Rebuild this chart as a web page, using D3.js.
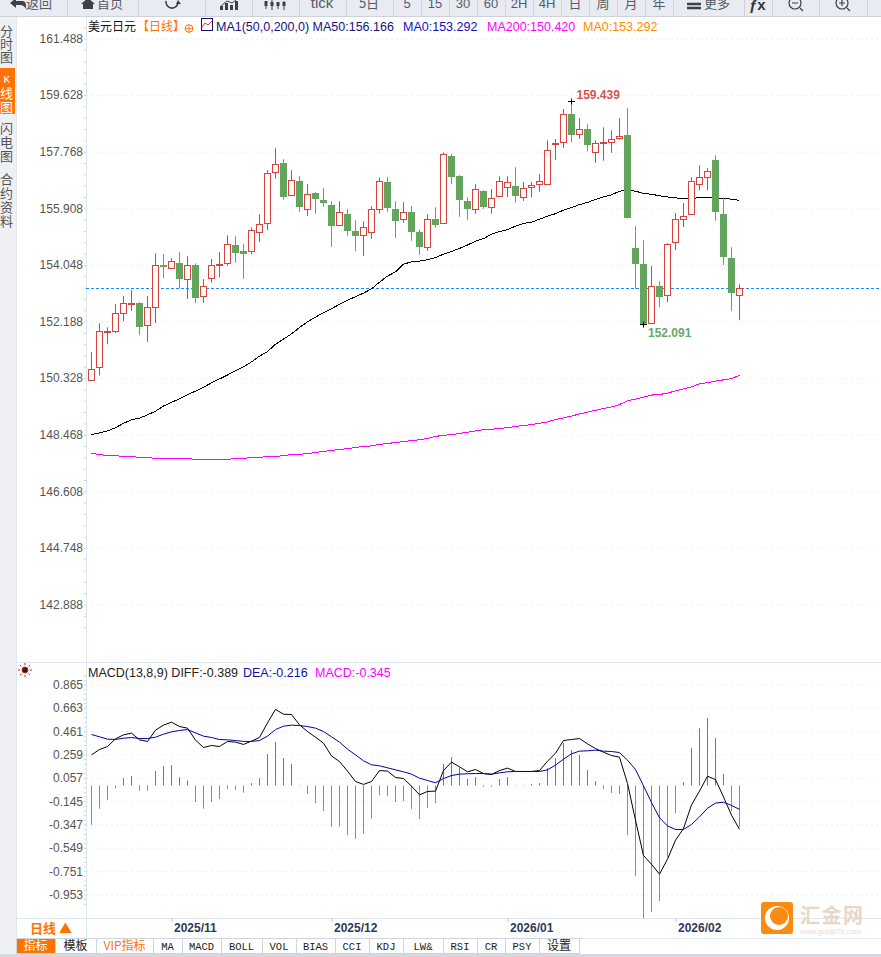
<!DOCTYPE html>
<html>
<head>
<meta charset="utf-8">
<script src="https://cdn.jsdelivr.net/npm/d3@7"></script>
<style>
html, body { margin: 0; padding: 0; background: #fff; overflow: hidden; }
svg { display: block; }
text { font-family: "Liberation Sans", Arial, sans-serif; }
.cjk { font-family: "Noto Sans CJK SC", sans-serif; }
.mono { font-family: "Liberation Mono", monospace; }
</style>
</head>
<body>
<div id="chart"></div>
<script>
// values
var priceTicks = [161.488, 159.628, 157.768, 155.908, 154.048, 152.188, 150.328, 148.468, 146.608, 144.748, 142.888];
var macdTicks = [0.865, 0.663, 0.461, 0.259, 0.057, -0.145, -0.347, -0.549, -0.751, -0.953];
var dateLabels = ["2025/11", "2025/12", "2026/01", "2026/02"];
var dateIndex = [10, 30, 52, 73];
var lastPrice = 153.292;
// candles that carry the high and low labels
var highMark = 60, lowMark = 69;

var opens = [150.28,150.68,151.85,151.89,152.45,152.77,152.79,152.06,152.65,154.04,
    153.93,154.10,153.56,154.04,153.00,153.63,154.05,154.08,154.70,154.49,
    154.49,155.11,155.44,157.12,157.39,156.36,156.80,155.90,156.40,156.17,
    156.01,155.38,155.71,155.16,155.01,155.11,155.90,156.77,155.88,155.54,
    155.78,155.12,154.65,155.55,155.41,157.62,156.96,156.14,155.87,156.47,
    155.97,156.30,156.62,156.63,156.30,156.59,156.69,156.72,158.04,158.09,
    159.00,158.37,158.51,157.74,158.06,158.10,158.22,158.31,154.60,154.07,
    152.11,153.35,153.04,154.78,155.57,155.70,156.72,156.95,157.49,155.71,
    154.27,153.07];
var closes = [150.64,151.86,151.89,152.48,152.78,152.81,152.04,152.65,154.03,154.02,
    154.16,153.62,154.03,153.00,153.34,154.06,154.09,154.72,154.48,154.44,
    155.18,155.38,157.08,157.38,156.32,156.85,155.99,156.39,156.25,156.12,
    155.36,155.80,155.17,155.04,155.28,155.87,156.82,155.96,155.53,155.77,
    155.17,154.67,155.57,155.40,157.68,156.97,156.19,155.92,156.53,155.99,
    156.26,156.79,156.77,156.32,156.59,156.66,156.79,157.84,158.07,159.02,
    158.35,158.53,158.03,158.04,158.08,158.20,158.30,155.63,154.11,152.11,
    153.34,153.03,154.72,155.54,155.67,156.79,156.95,157.15,155.82,154.34,
    153.16,153.292];
var highs = [151.18,152.13,152.00,152.76,153.02,153.22,152.82,153.02,154.43,154.40,
    154.27,154.47,154.33,154.10,153.58,154.24,154.47,155.02,154.99,154.73,
    155.28,155.71,157.16,157.88,157.52,157.16,156.96,156.70,156.44,156.57,
    156.14,156.14,155.88,155.52,155.48,155.97,156.92,156.93,156.14,156.11,
    155.98,155.21,155.71,155.94,157.74,157.69,157.00,156.27,156.70,156.50,
    156.54,156.96,156.96,157.26,156.77,156.77,157.03,158.14,158.18,159.17,
    159.439,158.87,158.67,158.14,158.57,158.47,158.87,159.20,155.32,154.86,
    154.01,153.51,154.76,155.75,156.08,156.93,157.32,157.23,157.65,156.26,
    154.63,153.41];
var lows = [150.24,150.42,151.44,151.81,152.20,152.53,151.74,151.52,152.14,153.61,
    153.92,153.27,152.93,152.80,152.80,153.46,153.64,154.02,154.12,153.59,
    154.40,154.79,155.19,156.88,156.19,156.36,155.79,155.66,155.73,155.96,
    154.64,155.36,155.00,154.50,154.34,154.90,155.73,155.79,154.94,155.43,
    154.84,154.38,154.51,155.27,155.41,156.71,155.63,155.53,155.73,155.89,
    155.73,156.30,156.28,156.09,156.15,156.27,156.45,156.71,157.49,157.89,
    158.09,158.19,157.78,157.40,157.47,157.73,158.16,155.58,153.26,152.091,
    152.11,152.66,152.82,154.53,155.29,155.70,156.50,156.50,155.50,154.04,
    152.53,152.23];

var ma50 = [148.47,148.53,148.59,148.70,148.84,148.96,149.01,149.12,149.24,149.41,
    149.53,149.65,149.78,149.90,150.03,150.17,150.30,150.43,150.57,150.70,
    150.86,151.05,151.20,151.44,151.61,151.78,151.99,152.18,152.33,152.48,
    152.61,152.75,152.89,153.00,153.12,153.26,153.48,153.68,153.82,154.07,
    154.15,154.17,154.22,154.29,154.40,154.49,154.59,154.70,154.83,154.91,
    155.06,155.14,155.21,155.32,155.41,155.45,155.55,155.65,155.73,155.85,
    155.93,156.03,156.10,156.20,156.28,156.35,156.47,156.50,156.47,156.40,
    156.37,156.32,156.28,156.25,156.23,156.23,156.26,156.26,156.26,156.23,
    156.21,156.166];
var ma200 = [147.85,147.82,147.78,147.78,147.75,147.75,147.72,147.72,147.69,147.69,
    147.69,147.69,147.69,147.65,147.65,147.65,147.65,147.65,147.69,147.69,
    147.72,147.72,147.75,147.75,147.78,147.82,147.82,147.85,147.88,147.92,
    147.95,147.98,148.01,148.05,148.08,148.10,148.15,148.18,148.21,148.24,
    148.28,148.30,148.35,148.41,148.45,148.47,148.51,148.55,148.59,148.64,
    148.65,148.67,148.70,148.74,148.77,148.80,148.84,148.89,148.97,149.02,
    149.08,149.15,149.21,149.27,149.33,149.38,149.46,149.58,149.64,149.70,
    149.77,149.79,149.83,149.91,149.97,150.04,150.14,150.18,150.23,150.27,
    150.31,150.42];

var diff = [.256,.302,.328,.395,.429,.444,.386,.372,.470,.513,
    .539,.501,.487,.383,.320,.337,.328,.372,.366,.346,
    .375,.406,.533,.649,.608,.605,.516,.458,.409,.357,
    .247,.198,.115,.025,.000,.025,.120,.115,.060,.051,
    -.015,-.090,-.061,-.058,.120,.193,.152,.109,.129,.094,
    .086,.120,.141,.112,.112,.112,.120,.201,.270,.380,
    .389,.397,.351,.311,.279,.250,.236,.008,-.310,-.616,
    -.691,-.777,-.647,-.483,-.382,-.177,-.058,.071,.042,-.108,
    -.266,-.389];
var dea = [.432,.412,.392,.389,.400,.406,.397,.397,.409,.435,
    .455,.467,.475,.446,.418,.406,.389,.386,.380,.372,
    .372,.380,.418,.475,.504,.513,.510,.501,.487,.458,
    .412,.366,.305,.256,.204,.170,.161,.144,.126,.109,
    .089,.054,.034,.014,.051,.077,.089,.092,.094,.094,
    .089,.100,.109,.112,.112,.112,.112,.126,.167,.219,
    .265,.288,.291,.297,.288,.285,.276,.210,.129,-.012,
    -.157,-.289,-.359,-.390,-.390,-.347,-.281,-.206,-.162,-.154,
    -.182,-.216];
var macdBars = [-.341,-.202,-.127,-.023,.063,.081,-.046,-.046,.124,.167,
    .176,.072,.043,-.144,-.202,-.144,-.118,-.032,-.038,-.063,
    .020,.063,.271,.375,.237,.185,.003,-.075,-.153,-.222,
    -.358,-.358,-.430,-.462,-.418,-.289,-.084,-.092,-.144,-.136,
    -.205,-.291,-.196,-.153,.185,.245,.153,.055,.072,-.012,
    -.012,.055,.072,.003,.003,.012,.020,.150,.237,.367,
    .306,.263,.133,.038,-.032,-.066,-.075,-.430,-.785,-1.149,
    -1.097,-1.001,-.621,-.240,.029,.323,.496,.583,.410,.098,
    -.222,-.361];

var toolbarSeps = [67, 138, 205, 252, 299, 346, 393, 421, 449, 477, 505, 533, 561, 589, 617, 645, 673, 744, 772, 819, 867];
var toolbarText = [["返回", 39], ["首页", 110], ["tick", 322], ["5日", 369], ["5", 407], ["15", 435], ["30", 463], ["60", 491], ["2H", 519], ["4H", 547], ["日", 575], ["周", 603], ["月", 631], ["年", 659], ["更多", 717]];
var sideText = [["分", 36], ["时", 49], ["图", 62], ["闪", 133], ["电", 147], ["图", 161], ["合", 184], ["约", 198], ["资", 212], ["料", 226]];
var tabs = [["指标", 16, 55], ["模板", 55, 96], ["VIP指标", 96, 153], ["MA", 153, 182], ["MACD", 182, 221], ["BOLL", 221, 262], ["VOL", 262, 296], ["BIAS", 296, 335], ["CCI", 335, 369], ["KDJ", 369, 403], ["LW&", 403, 443], ["RSI", 443, 477], ["CR", 477, 505], ["PSY", 505, 539], ["设置", 539, 579]];

var svgWidth = 881, svgHeight = 957;
var axisX = 86;
var orange = "#ff7200", upColor = "#d9423f", downColor = "#62a55d";

var svg = d3.select("#chart").append("svg")
    .attr("width", svgWidth)
    .attr("height", svgHeight);

// scales
var indexes = d3.range(opens.length);
var xScale = d3.scaleLinear().domain([0, opens.length - 1]).range([91.5, 739.5]);
var yPrice = d3.scaleLinear().domain([142.888, 161.488]).range([604.5, 38.5]);
var yMacd = d3.scaleLinear().domain([-0.953, 0.865]).range([894.5, 684.5]);

function fmt(d) { return d.toFixed(3); }

// grid lines and left axes
function drawAxis(scale, ticks, minor) {
    svg.append("g")
        .attr("transform", "translate(" + axisX + ",0)")
        .call(d3.axisLeft(scale).tickValues(ticks).tickSize(-(svgWidth - axisX)).tickFormat(""))
        .call(g => g.select(".domain").remove())
        .selectAll("line")
        .attr("stroke", "#eeeeee")
        .attr("stroke-dasharray", "2,3");

    svg.append("g")
        .attr("transform", "translate(" + axisX + ",0)")
        .call(d3.axisLeft(scale).tickValues(minor).tickSize(2).tickFormat(""))
        .call(g => g.select(".domain").remove())
        .selectAll("line")
        .attr("stroke", "#c9d6e2");

    svg.append("g")
        .attr("transform", "translate(" + axisX + ",0)")
        .call(d3.axisLeft(scale).tickValues(ticks).tickSize(0).tickPadding(3).tickFormat(fmt))
        .call(g => g.select(".domain").remove())
        .selectAll("text")
        .attr("fill", "#555")
        .style("font-family", '"Liberation Sans", Arial, sans-serif')
        .style("font-size", "12px");
}

function minorTicks(ticks) {
    var step = (ticks[0] - ticks[1]) / 5;
    var out = [];
    ticks.forEach(function(t) {
        d3.range(-2, 3).forEach(function(k) { out.push(t + k * step); });
    });
    return out;
}

drawAxis(yPrice, priceTicks, minorTicks(priceTicks));
drawAxis(yMacd, macdTicks, minorTicks(macdTicks));

// frame lines of the panels
var frame = [[axisX + 0.5, 17, axisX + 0.5, 938], [16.5, 17, 16.5, 954], [16, 662.5, 881, 662.5], [16, 918.5, 881, 918.5], [16, 938.5, 881, 938.5]];
svg.selectAll("line.frame").data(frame).enter().append("line")
    .attr("class", "frame")
    .attr("x1", d => d[0]).attr("y1", d => d[1]).attr("x2", d => d[2]).attr("y2", d => d[3])
    .attr("stroke", "#dfe7ee");

// last price dashed line
svg.append("line")
    .attr("x1", axisX).attr("x2", svgWidth)
    .attr("y1", Math.round(yPrice(lastPrice)) + 0.5).attr("y2", Math.round(yPrice(lastPrice)) + 0.5)
    .attr("stroke", "#1a8cff")
    .attr("stroke-dasharray", "3,2");

// moving averages
function lineOf(values, scale) {
    return d3.line().x(d => xScale(d)).y(d => scale(values[d]))(indexes);
}
svg.append("path").attr("d", lineOf(ma200, yPrice)).attr("fill", "none").attr("stroke", "#ff00ff").attr("shape-rendering", "crispEdges");
svg.append("path").attr("d", lineOf(ma50, yPrice)).attr("fill", "none").attr("stroke", "#000").attr("shape-rendering", "crispEdges");

// candles
var candles = svg.append("g").selectAll("g").data(indexes).enter().append("g");
candles.append("line")
    .attr("x1", d => xScale(d)).attr("x2", d => xScale(d))
    .attr("y1", d => yPrice(highs[d])).attr("y2", d => yPrice(lows[d]))
    .attr("stroke", d => closes[d] >= opens[d] ? upColor : downColor);
candles.append("rect")
    .attr("x", d => xScale(d) - 3)
    .attr("width", 6)
    .attr("y", d => Math.round(yPrice(Math.max(opens[d], closes[d]))) + 0.5)
    .attr("height", d => Math.max(1, Math.round(Math.abs(yPrice(opens[d]) - yPrice(closes[d])))))
    .attr("fill", d => closes[d] >= opens[d] ? "#fff" : downColor)
    .attr("stroke", d => closes[d] >= opens[d] ? upColor : downColor);

// high and low marks
[[highMark, highs[highMark], 5, -3, "#d9534f"], [lowMark, lows[lowMark], 4.5, 12, "#6aa86a"]].forEach(function(m) {
    var cx = xScale(m[0]), cy = Math.round(yPrice(m[1])) + 0.5;
    svg.append("path").attr("d", "M" + (cx - 3.5) + "," + cy + "H" + (cx + 3.5) + "M" + cx + "," + (cy - 3) + "V" + (cy + 3)).attr("stroke", "#000");
    svg.append("text").attr("x", cx + m[2]).attr("y", cy + m[3])
        .attr("fill", m[4]).attr("font-size", 12).attr("font-weight", "bold")
        .text(fmt(m[1]));
});

// legend of the price panel
function label(x, y, str, color, size, cls, weight) {
    return svg.append("text").attr("x", x).attr("y", y).attr("fill", color)
        .attr("font-size", size).attr("class", cls || null).attr("font-weight", weight || null).text(str);
}
label(88, 31, "美元日元", "#111", 12, "cjk");
label(137, 31, "【日线】", orange, 12, "cjk");
svg.append("circle").attr("cx", 189).attr("cy", 28.5).attr("r", 3.8).attr("fill", "none").attr("stroke", orange);
svg.append("path").attr("d", "M185,28.5H193M189,24.5V32.5").attr("stroke", orange).attr("stroke-width", 0.8);
svg.append("rect").attr("x", 201.5).attr("y", 18.5).attr("width", 11).attr("height", 12).attr("fill", "#fff").attr("stroke", "#14147a");
svg.append("path").attr("d", "M202,27L205,23L208,25L212,21").attr("fill", "none").attr("stroke", "#e04040");
label(216, 31, "MA1(50,0,200,0) MA50:156.166", "#14147a", 12.5);
label(403, 31, "MA0:153.292", "#1010c0", 12.5);
label(487, 31, "MA200:150.420", "#ff00ff", 12.5);
label(583, 31, "MA0:153.292", "#ff8a00", 12.5);

// macd histogram
svg.append("g").attr("transform", "translate(0,1)").selectAll("line").data(indexes).enter().append("line")
    .attr("x1", d => xScale(d)).attr("x2", d => xScale(d))
    .attr("y1", yMacd(0))
    .attr("y2", d => yMacd(macdBars[d]))
    .attr("stroke", d => macdBars[d] >= 0 ? "#d0534f" : "#6aa563");
svg.append("path").attr("d", lineOf(diff, yMacd)).attr("fill", "none").attr("stroke", "#000");
svg.append("path").attr("d", lineOf(dea, yMacd)).attr("fill", "none").attr("stroke", "#0000a0");

// legend of the macd panel
svg.append("circle").attr("cx", 25).attr("cy", 670).attr("r", 3).attr("fill", "#222").attr("stroke", "#e02020");
d3.range(8).forEach(function(k) {
    var a = k * Math.PI / 4;
    svg.append("line")
        .attr("x1", 25 + 5 * Math.cos(a)).attr("y1", 670 + 5 * Math.sin(a))
        .attr("x2", 25 + 7 * Math.cos(a)).attr("y2", 670 + 7 * Math.sin(a))
        .attr("stroke", "#e02020");
});
label(88, 677, "MACD(13,8,9) DIFF:-0.389", "#222", 12.5);
label(243, 677, "DEA:-0.216", "#1010a0", 12.5);
label(315, 677, "MACD:-0.345", "#ff00ff", 12.5);

// date axis
svg.append("g")
    .attr("transform", "translate(0,918)")
    .call(d3.axisBottom(xScale).tickValues(dateIndex).tickSize(4).tickPadding(1).tickFormat((d, i) => dateLabels[i]))
    .call(g => g.select(".domain").remove())
    .call(g => g.selectAll("line").attr("stroke", "#b8c4d0"))
    .selectAll("text")
    .attr("text-anchor", "start")
    .attr("x", 2)
    .attr("fill", "#2f3a55")
    .style("font-family", '"Liberation Sans", Arial, sans-serif')
    .style("font-size", "12px")
    .style("font-weight", "bold");

// top toolbar
svg.append("rect").attr("width", svgWidth).attr("height", 16).attr("fill", "#e9ebf3");
svg.append("line").attr("x1", 0).attr("x2", svgWidth).attr("y1", 16.5).attr("y2", 16.5).attr("stroke", "#cfd2da");
svg.selectAll("line.sep").data(toolbarSeps).enter().append("line")
    .attr("class", "sep")
    .attr("x1", d => d + 0.5).attr("x2", d => d + 0.5).attr("y1", 0).attr("y2", 16)
    .attr("stroke", "#cfd2da");
svg.selectAll("text.tool").data(toolbarText).enter().append("text")
    .attr("class", d => /^[0-9a-zA-Z]+$/.test(d[0]) ? "tool" : "tool cjk")
    .attr("x", d => d[1])
    .attr("y", 8)
    .attr("text-anchor", "middle")
    .attr("fill", "#555b66")
    .attr("font-size", d => d[0] == "tick" ? 15 : 13)
    .text(d => d[0]);
var iconColor = "#3c4048";
svg.append("path").attr("d", "M10,3L16,-2V1H22Q26,1 26,6V9Q24,5 20,5H16V8Z").attr("fill", iconColor);
svg.append("path").attr("d", "M81,4L88,-2L95,4H93V9H83V4Z").attr("fill", iconColor);
svg.append("path").attr("d", "M166,1A6,6 0 1,0 178,3").attr("fill", "none").attr("stroke", iconColor).attr("stroke-width", 1.6);
svg.append("path").attr("d", "M176,4L181,4L178,0Z").attr("fill", iconColor);
svg.append("path").attr("d", "M220,10V6H223V10ZM225,10V3H228V10ZM230,10V5H233V10ZM235,10V1H238V10Z").attr("fill", iconColor);
svg.append("path").attr("d", "M220,7L227,1L232,3L237,-1").attr("fill", "none").attr("stroke", iconColor);
svg.append("path").attr("d", "M266,3V9M272,0V10M278,2V9M284,1V10").attr("stroke", iconColor);
svg.append("path").attr("d", "M264.5,1H267.5V6H264.5ZM270.5,2H273.5V6H270.5ZM276.5,2H279.5V6H276.5ZM282.5,2H285.5V6H282.5Z").attr("fill", iconColor);
svg.append("path").attr("d", "M687,4H701M687,8H701").attr("stroke", iconColor).attr("stroke-width", 2.4);
label(749, 10, "ƒx", "#333", 15, null, "bold");
svg.append("circle").attr("cx", 795).attr("cy", 3).attr("r", 6).attr("fill", "none").attr("stroke", iconColor).attr("stroke-width", 1.2);
svg.append("path").attr("d", "M792,3H798M800,8L803,11").attr("stroke", iconColor).attr("stroke-width", 1.2);
svg.append("circle").attr("cx", 842).attr("cy", 3).attr("r", 6).attr("fill", "none").attr("stroke", iconColor).attr("stroke-width", 1.2);
svg.append("path").attr("d", "M839,3H845M842,0V6M847,8L850,11").attr("stroke", iconColor).attr("stroke-width", 1.2);

// left side panel
svg.append("rect").attr("y", 17).attr("width", 16).attr("height", 937).attr("fill", "#eef0f4");
svg.append("rect").attr("y", 68).attr("width", 15).attr("height", 46).attr("fill", orange);
svg.selectAll("text.side").data(sideText).enter().append("text")
    .attr("class", "side cjk")
    .attr("x", 6.5)
    .attr("y", d => d[1])
    .attr("text-anchor", "middle")
    .attr("fill", "#555")
    .attr("font-size", 13)
    .text(d => d[0]);
label(3.5, 83, "K", "#fff", 11, "mono");
svg.append("text").attr("class", "cjk").attr("x", 6.5).attr("y", 98).attr("text-anchor", "middle").attr("fill", "#fff").attr("font-size", 13).text("线");
svg.append("text").attr("class", "cjk").attr("x", 6.5).attr("y", 112).attr("text-anchor", "middle").attr("fill", "#fff").attr("font-size", 13).text("图");

// period switch and bottom tabs
svg.append("rect").attr("x", 17).attr("y", 919).attr("width", 69).attr("height", 19).attr("fill", "#fff");
label(30, 933, "日线 ▲", orange, 13, "cjk", "bold");
svg.selectAll("rect.tab").data(tabs).enter().append("rect")
    .attr("class", "tab")
    .attr("x", d => d[1] + 0.5).attr("y", 938.5)
    .attr("width", d => d[2] - d[1]).attr("height", 15)
    .attr("fill", (d, i) => i == 0 ? orange : "#fff")
    .attr("stroke", "#cdd6df");
svg.selectAll("text.tabtext").data(tabs).enter().append("text")
    .attr("class", d => /[^\x00-\x7f]/.test(d[0]) ? "tabtext cjk" : "tabtext mono")
    .attr("x", d => (d[1] + d[2]) / 2)
    .attr("y", 950)
    .attr("text-anchor", "middle")
    .attr("fill", (d, i) => i == 0 ? "#fff" : (i == 2 ? orange : "#222"))
    .attr("font-size", d => /[^\x00-\x7f]/.test(d[0]) ? 12 : 10.5)
    .text(d => d[0]);
svg.append("rect").attr("y", 954).attr("width", svgWidth).attr("height", 3).attr("fill", "#d5d8de");

// logo
svg.append("rect").attr("x", 761).attr("y", 902).attr("width", 32).attr("height", 32).attr("rx", 3).attr("fill", "#f98a12");
svg.append("circle").attr("cx", 777).attr("cy", 918).attr("r", 12).attr("fill", "#fff");
svg.append("circle").attr("cx", 779).attr("cy", 916).attr("r", 9).attr("fill", "#f98a12");
label(800, 923, "汇金网", "#e6d8c8", 20, "cjk", "bold").attr("letter-spacing", 1.5);
label(800, 934, "www.gold678.com", "#eaded2", 7.5);
</script>
</body>
</html>
